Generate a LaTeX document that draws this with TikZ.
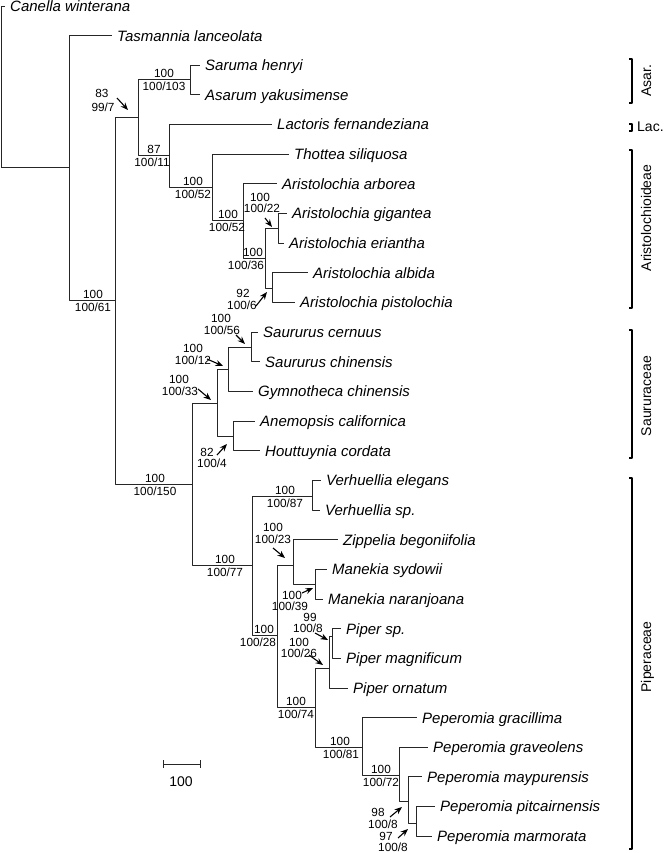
\documentclass[tikz,border=0pt]{standalone}
\usepackage{fontspec}
\setmainfont{Liberation Sans}
\usetikzlibrary{arrows.meta}
\begin{document}
\begin{tikzpicture}[x=1pt,y=-1pt,declare function={rowy(\i)=6+29.65*\i; bx=632;},
  >={Stealth[length=7.5pt,width=6pt]},line join=round,
  branch/.style={draw=black!85,line width=0.9pt},
  pointer/.style={draw=black,line width=1.1pt},
  taxon/.style={anchor=west,inner xsep=5pt,inner ysep=0pt,text height=10.8pt,text depth=0pt,font=\fontsize{15}{18}\selectfont\itshape},
  support/.style={inner sep=0pt,text height=8.5pt,text depth=0pt,font=\fontsize{11.8}{13}\selectfont},
  clade/.style={inner sep=0pt,text height=10pt,text depth=0pt,font=\fontsize{14}{16}\selectfont},
  bracket/.style={draw=black,line width=1.7pt}]
\useasboundingbox (0,0) rectangle (666,853);
% internal nodes
\foreach \n/\x/\y in {root/1/167, nA/69/167, nB/115/300, nC/138/117, nAsar/190/79,
    nD/169/155, nE/212/187, nF/243/220, nG/265/258, nH/278/228, nI/272/288,
    nP/192/484, nS/217/403, nT/228/369, nV/251/347, nU/233/436,
    nQ/252/565, nVer/312/496, nR/277/635, nZ/293/565, nM/315/584,
    nX/315/707, nPi/329/668, nPs/332/636, nPe/362/747, nPg/399/775,
    nPm/408/801, nPt/416/823}
  \coordinate (\n) at (\x,\y);
% taxa
\foreach \n/\r/\x/\txt in {canella/0/5/Canella winterana,
    tasmannia/1/112/Tasmannia lanceolata,
    saruma/2/200/Saruma henryi,
    asarum/3/200/Asarum yakusimense,
    lactoris/4/272/Lactoris fernandeziana,
    thottea/5/289/Thottea siliquosa,
    arborea/6/277/Aristolochia arborea,
    gigantea/7/287/Aristolochia gigantea,
    eriantha/8/284/Aristolochia eriantha,
    albida/9/308/Aristolochia albida,
    pistolochia/10/295/Aristolochia pistolochia,
    cernuus/11/258/Saururus cernuus,
    sschin/12/260/Saururus chinensis,
    gymnotheca/13/253/Gymnotheca chinensis,
    anemopsis/14/255/Anemopsis californica,
    houttuynia/15/260/Houttuynia cordata,
    verel/16/321/Verhuellia elegans,
    versp/17/320/Verhuellia sp.,
    zippelia/18/338/Zippelia begoniifolia,
    sydowii/19/327/Manekia sydowii,
    naranjoana/20/323/Manekia naranjoana,
    pipersp/21/341/Piper sp.,
    magnificum/22/341/Piper magnificum,
    ornatum/23/348/Piper ornatum,
    gracillima/24/417/Peperomia gracillima,
    graveolens/25/428/Peperomia graveolens,
    maypurensis/26/422/Peperomia maypurensis,
    pitcairnensis/27/435/Peperomia pitcairnensis,
    marmorata/28/432/Peperomia marmorata}
  \node[taxon] (\n) at (\x,{rowy(\r)}) {\txt};
% branches
\foreach \p/\c in {root/canella.west, root/nA, nA/tasmannia.west, nA/nB,
    nB/nC, nB/nP, nC/nAsar, nC/nD, nAsar/saruma.west, nAsar/asarum.west,
    nD/lactoris.west, nD/nE, nE/thottea.west, nE/nF, nF/arborea.west, nF/nG,
    nG/nH, nG/nI, nH/gigantea.west, nH/eriantha.west, nI/albida.west, nI/pistolochia.west,
    nP/nS, nP/nQ, nS/nT, nS/nU, nT/nV, nT/gymnotheca.west,
    nV/cernuus.west, nV/sschin.west, nU/anemopsis.west, nU/houttuynia.west,
    nQ/nVer, nQ/nR, nVer/verel.west, nVer/versp.west, nR/nZ, nR/nX,
    nZ/zippelia.west, nZ/nM, nM/sydowii.west, nM/naranjoana.west,
    nX/nPi, nX/nPe, nPi/nPs, nPi/ornatum.west, nPs/pipersp.west, nPs/magnificum.west,
    nPe/gracillima.west, nPe/nPg, nPg/graveolens.west, nPg/nPm,
    nPm/maypurensis.west, nPm/nPt, nPt/pitcairnensis.west, nPt/marmorata.west}
  \draw[branch] (\p) |- (\c);
% support values on the branches
\foreach \xa/\xb/\y/\va/\vb [count=\k] in {93/93/300/100/{100/61}, 155/155/484/100/{100/150},
    225/225/565/100/{100/77}, 164/164/79/100/{100/103}, 154/152/155/87/{100/11},
    193/193/187/100/{100/52}, 228/227/220/100/{100/52}, 253/246/258/100/{100/36},
    285/285/496/100/{100/87}, 264/258/635/100/{100/28}, 296/296/707/100/{100/74},
    340/341/747/100/{100/81}, 381/381/775/100/{100/72}}{
  \node[support] (bt\k) at (\xa,\y-6) {\va};
  \node[support] (bb\k) at (\xb,\y+7.5) {\vb};
}
% support values with pointers
\foreach \xa/\ya/\va/\xb/\yb/\vb/\tx/\ty/\hx/\hy [count=\k] in {
    102/93/83/103/107/{99/7}/117/98/128/110,
    260/197/100/262/208/{100/22}/265/218/272/227,
    243/293/92/242/305/{100/6}/256/306/267/292,
    221/318/100/222/330/{100/56}/236/335/245/344,
    193/348/100/193/360/{100/12}/207/359/223/366,
    179/379/100/180/391/{100/33}/198/389/211/400,
    207/452/82/212/463/{100/4}/217/455/227/444,
    273/527/100/273/539/{100/23}/273/548/285/558,
    292/595/100/290/606/{100/39}/302/593/313/588,
    310/617/99/308/628/{100/8}/315/633/328/640,
    299/642/100/299/653/{100/26}/309/655/323/665,
    378/812/98/383/824.5/{100/8}/390/817/402/807,
    386/836/97/393/847.5/{100/8}/398/838/408/829}{
  \node[support] (pt\k) at (\xa,\ya) {\va};
  \node[support] (pb\k) at (\xb,\yb) {\vb};
  \coordinate (tail\k) at (\tx,\ty);
  \coordinate (head\k) at (\hx,\hy);
  \draw[->,pointer] (tail\k) -- (head\k);
}
% clades
\foreach \ya/\yb/\yl/\cl [count=\k] in {59/103/81/Asar., 150/308/218/Aristolochioideae,
    330/458/396/Saururaceae, 478/849/657/Piperaceae}{
  \draw[bracket] (bx-3,\ya) -- (bx,\ya) -- (bx,\yb) -- (bx-3,\yb);
  \node[clade,rotate=90] (clade\k) at (646,\yl) {\cl};
}
\draw[bracket] (bx-3,124) -- (bx,124) -- (bx,131) -- (bx-3,131);
\node[clade,anchor=west] (lac) at (637,127) {Lac.};
% scale bar
\coordinate (sbl) at (163,764);
\coordinate (sbr) at (200,764);
\draw[branch] (sbl) -- (sbr);
\draw[branch] ([yshift=4pt]sbl) -- ([yshift=-4pt]sbl);
\draw[branch] ([yshift=4pt]sbr) -- ([yshift=-4pt]sbr);
\node[clade] (sblabel) at (181,781) {100};
\end{tikzpicture}
\end{document}
